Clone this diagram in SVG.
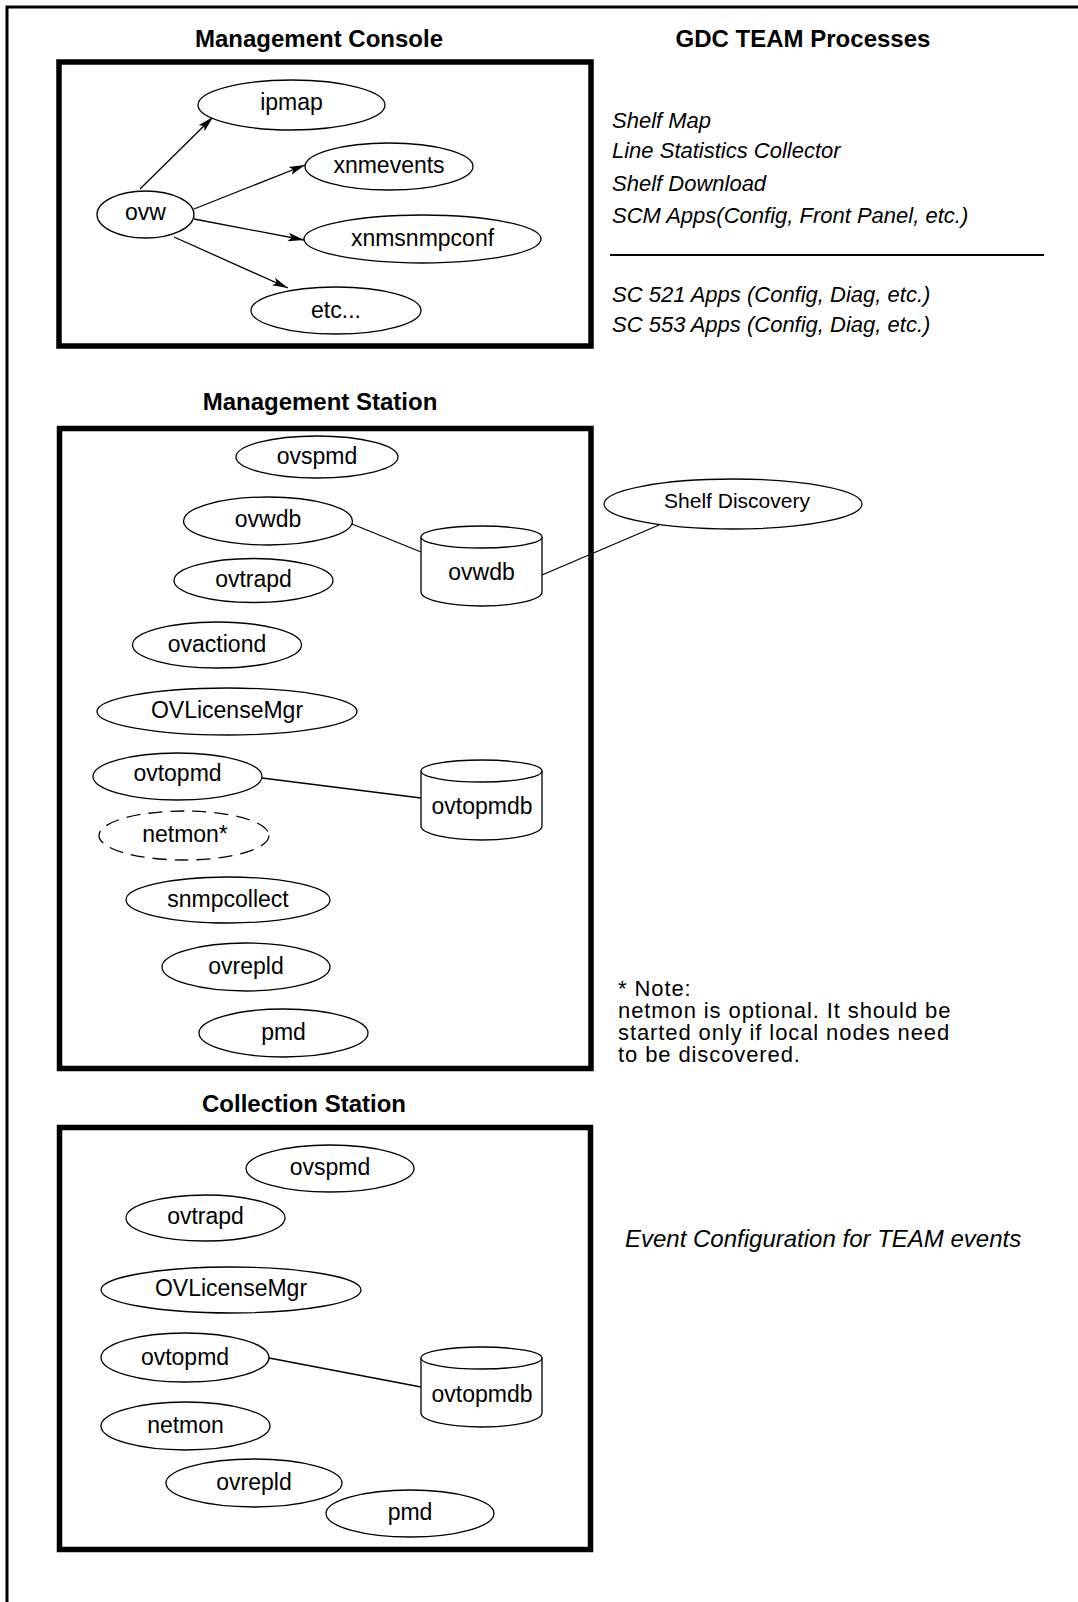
<svg xmlns="http://www.w3.org/2000/svg" width="1078" height="1602" viewBox="0 0 1078 1602">
<style>
text { font-family: "Liberation Sans", Arial, Helvetica, sans-serif; fill: #000; }
.n { fill: #fff; stroke: #000; stroke-width: 1.3; }
.d { fill: #fff; stroke: #000; stroke-width: 1.3; stroke-dasharray: 14 8; }
.t { font-size: 23px; text-anchor: middle; }
.ts { font-size: 21px; text-anchor: middle; }
.box { fill: none; stroke: #000; stroke-width: 5.5; }
.title { font-size: 24px; font-weight: bold; text-anchor: middle; }
.it { font-size: 22px; font-style: italic; }
.it2 { font-size: 24px; font-style: italic; }
.note { font-size: 22px; letter-spacing: 0.9px; }
.e { fill: none; stroke: #000; stroke-width: 1.3; }
</style>
<defs>
<marker id="arr" markerWidth="17" markerHeight="10" refX="16" refY="5" orient="auto" markerUnits="userSpaceOnUse">
<path d="M0,0.8 L16,5 L0,9.2 L3.5,5 Z" fill="#000"/>
</marker>
</defs>
<rect width="1078" height="1602" fill="#fff"/>
<path d="M7,1602 L7,7 L1078,7" fill="none" stroke="#000" stroke-width="3"/>

<g id="management-console">
<text class="title" x="319" y="47">Management Console</text>
<rect class="box" x="59" y="62" width="532" height="284"/>
</g>
<g id="gdc-team">
<text class="title" x="803" y="47">GDC TEAM Processes</text>
<text class="it" x="612" y="128">Shelf Map</text>
<text class="it" x="612" y="158">Line Statistics Collector</text>
<text class="it" x="612" y="191">Shelf Download</text>
<text class="it" x="612" y="223">SCM Apps(Config, Front Panel, etc.)</text>
<line x1="610" y1="255" x2="1044" y2="255" stroke="#000" stroke-width="2"/>
<text class="it" x="612" y="302">SC 521 Apps (Config, Diag, etc.)</text>
<text class="it" x="612" y="332">SC 553 Apps (Config, Diag, etc.)</text>
</g>
<g id="management-station">
<text class="title" x="320" y="410">Management Station</text>
<rect class="box" x="59.5" y="428.5" width="531.5" height="640"/>
</g>
<g id="collection-station">
<text class="title" x="304" y="1112">Collection Station</text>
<rect class="box" x="59.5" y="1127.5" width="531" height="422"/>
</g>

<g id="connectors">
<line class="e" x1="140" y1="189" x2="213" y2="117" marker-end="url(#arr)"/>
<line class="e" x1="194" y1="209" x2="305" y2="165" marker-end="url(#arr)"/>
<line class="e" x1="194" y1="219" x2="304" y2="240" marker-end="url(#arr)"/>
<line class="e" x1="174" y1="237" x2="288" y2="288" marker-end="url(#arr)"/>
<line class="e" x1="352" y1="524" x2="421" y2="552"/>
<line class="e" x1="542" y1="575" x2="659" y2="525"/>
<line class="e" x1="262" y1="778" x2="421" y2="798"/>
<line class="e" x1="269" y1="1358" x2="421" y2="1387"/>
</g>

<g id="mc-ipmap"><ellipse class="n" cx="291.5" cy="105" rx="93.5" ry="25"/><text class="t" x="291.5" y="110">ipmap</text></g>
<g id="mc-xnmevents"><ellipse class="n" cx="389" cy="166.5" rx="84" ry="23.5"/><text class="t" x="389" y="173">xnmevents</text></g>
<g id="mc-ovw"><ellipse class="n" cx="145.5" cy="214.5" rx="48.5" ry="23.5"/><text class="t" x="145.5" y="220">ovw</text></g>
<g id="mc-xnmsnmpconf"><ellipse class="n" cx="422.5" cy="239" rx="118.5" ry="24"/><text class="t" x="422.5" y="246">xnmsnmpconf</text></g>
<g id="mc-etc"><ellipse class="n" cx="336" cy="310.5" rx="85" ry="23.5"/><text class="t" x="336" y="318">etc...</text></g>

<g id="ms-ovspmd"><ellipse class="n" cx="317" cy="457" rx="81" ry="21"/><text class="t" x="317" y="464">ovspmd</text></g>
<g id="ms-ovwdb"><ellipse class="n" cx="268" cy="521" rx="84.5" ry="24"/><text class="t" x="268" y="527">ovwdb</text></g>
<g id="ms-ovtrapd"><ellipse class="n" cx="253.5" cy="580.5" rx="79.5" ry="22"/><text class="t" x="253.5" y="587">ovtrapd</text></g>
<g id="ms-ovactiond"><ellipse class="n" cx="217" cy="645" rx="84.5" ry="23"/><text class="t" x="217" y="652">ovactiond</text></g>
<g id="ms-ovlicensemgr"><ellipse class="n" cx="227" cy="711.5" rx="130" ry="23.5"/><text class="t" x="227" y="718">OVLicenseMgr</text></g>
<g id="ms-ovtopmd"><ellipse class="n" cx="177.5" cy="776.5" rx="84.5" ry="23.5"/><text class="t" x="177.5" y="781">ovtopmd</text></g>
<g id="ms-netmon"><ellipse class="d" cx="184" cy="835.5" rx="85" ry="24.5"/><text class="t" x="185" y="842">netmon*</text></g>
<g id="ms-snmpcollect"><ellipse class="n" cx="228" cy="900" rx="102" ry="23"/><text class="t" x="228" y="907">snmpcollect</text></g>
<g id="ms-ovrepld"><ellipse class="n" cx="246" cy="967" rx="84" ry="24"/><text class="t" x="246" y="974">ovrepld</text></g>
<g id="ms-pmd"><ellipse class="n" cx="283.5" cy="1033" rx="84.5" ry="24"/><text class="t" x="283.5" y="1040">pmd</text></g>
<g id="ms-ovwdb-db"><path class="n" d="M421,537 L421,592 A60.5,14 0 0 0 542,592 L542,537"/><ellipse class="n" cx="481.5" cy="537" rx="60.5" ry="11"/><text class="t" x="481.5" y="580">ovwdb</text></g>
<g id="ms-ovtopmdb-db"><path class="n" d="M421,771 L421,826 A60.5,14 0 0 0 542,826 L542,771"/><ellipse class="n" cx="481.5" cy="771" rx="60.5" ry="11"/><text class="t" x="482" y="814">ovtopmdb</text></g>
<g id="shelf-discovery"><ellipse class="n" cx="733" cy="504" rx="129" ry="25"/><text class="ts" x="737" y="508">Shelf Discovery</text></g>

<g id="note">
<text class="note" x="618" y="996">* Note:</text>
<text class="note" x="618" y="1018">netmon is optional. It should be</text>
<text class="note" x="618" y="1040">started only if local nodes need</text>
<text class="note" x="618" y="1062">to be discovered.</text>
</g>

<g id="cs-ovspmd"><ellipse class="n" cx="330" cy="1168.5" rx="84" ry="23.5"/><text class="t" x="330" y="1175">ovspmd</text></g>
<g id="cs-ovtrapd"><ellipse class="n" cx="205.5" cy="1218" rx="79.5" ry="23"/><text class="t" x="205.5" y="1224">ovtrapd</text></g>
<g id="cs-ovlicensemgr"><ellipse class="n" cx="231" cy="1290" rx="130" ry="23"/><text class="t" x="231" y="1296">OVLicenseMgr</text></g>
<g id="cs-ovtopmd"><ellipse class="n" cx="185" cy="1357.5" rx="84" ry="24.5"/><text class="t" x="185" y="1365">ovtopmd</text></g>
<g id="cs-ovtopmdb-db"><path class="n" d="M421,1358 L421,1413 A60.5,14 0 0 0 542,1413 L542,1358"/><ellipse class="n" cx="481.5" cy="1358" rx="60.5" ry="11"/><text class="t" x="482" y="1402">ovtopmdb</text></g>
<g id="cs-netmon"><ellipse class="n" cx="185.5" cy="1426" rx="84.5" ry="24"/><text class="t" x="185.5" y="1433">netmon</text></g>
<g id="cs-ovrepld"><ellipse class="n" cx="254" cy="1483" rx="88" ry="24"/><text class="t" x="254" y="1490">ovrepld</text></g>
<g id="cs-pmd"><ellipse class="n" cx="410" cy="1513.5" rx="84" ry="23.5"/><text class="t" x="410" y="1520">pmd</text></g>
<g id="event-config">
<text class="it2" x="625" y="1247">Event Configuration for TEAM events</text>
</g>
</svg>
